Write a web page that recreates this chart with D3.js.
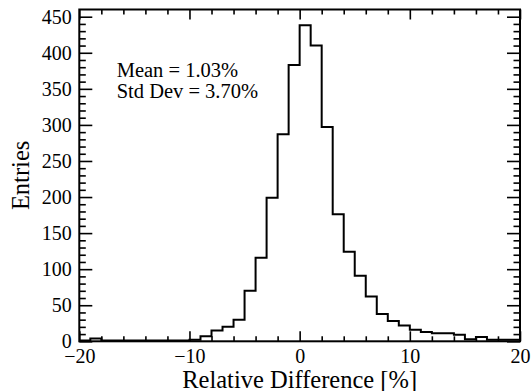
<!DOCTYPE html>
<html><head><meta charset="utf-8">
<script src="https://cdn.jsdelivr.net/npm/d3@7/dist/d3.min.js"></script>
<style>body{margin:0;background:#fff;} svg{display:block;}</style></head>
<body><svg id="c" width="531" height="391"></svg>
<script>
// bin lower / upper edges (bin width 1 %)
const binStart = [-20,-19,-18,-17,-16,-15,-14,-13,-12,-11,-10,-9,-8,-7,-6,-5,-4,-3,-2,-1,0,1,2,3,4,5,6,7,8,9,10,11,12,13,14,15,16,17,18,19];
const binEnd = [-19,-18,-17,-16,-15,-14,-13,-12,-11,-10,-9,-8,-7,-6,-5,-4,-3,-2,-1,0,1,2,3,4,5,6,7,8,9,10,11,12,13,14,15,16,17,18,19,20];
const counts = [1,4,1,1,1,1,1,1,1,1,2,7,15,20,30,70,116,199,287,383,438,410,297,176,124,91,62,38,28,22,16,13,11,11,9,3,6,2,2,2];
const xMajor = [-20,-10,0,10,20];
const xMinor = [-18,-16,-14,-12,-8,-6,-4,-2,2,4,6,8,12,14,16,18];
const yMajor = [0,50,100,150,200,250,300,350,400,450];
const yMinor = [10,20,30,40,60,70,80,90,110,120,130,140,160,170,180,190,210,220,230,240,260,270,280,290,310,320,330,340,360,370,380,390,410,420,430,440];
const stats = ["Mean = 1.03%","Std Dev = 3.70%"];
const xTitle = "Relative Difference [%]";
const yTitle = "Entries";

const FONT = "Liberation Serif";
const L=79.3, R=520, T=9.5, B=341.3;
const svg = d3.select("#c");
const x = d3.scaleLinear().domain([-20,20]).range([L,R]);
const y = d3.scaleLinear().domain([0,460]).range([B,T]);
const fmt = d => d < 0 ? "\u2212" + Math.abs(d) : String(d);

function styleAxis(g){ g.select(".domain").remove(); g.attr("font-family",FONT);
  g.selectAll("line").attr("stroke","#000").attr("stroke-width",1.6);
  g.selectAll("text").attr("fill","#000").attr("font-size",20).attr("font-family",FONT); }

// bottom
svg.append("g").attr("transform",`translate(0,${B})`)
  .call(d3.axisBottom(x).tickValues(xMajor).tickFormat(fmt).tickSize(-10).tickPadding(8)).call(styleAxis);
svg.append("g").attr("transform",`translate(0,${B})`)
  .call(d3.axisBottom(x).tickValues(xMinor).tickFormat("").tickSize(-5)).call(styleAxis);
// top
svg.append("g").attr("transform",`translate(0,${T})`)
  .call(d3.axisTop(x).tickValues(xMajor).tickFormat("").tickSize(-10)).call(styleAxis);
svg.append("g").attr("transform",`translate(0,${T})`)
  .call(d3.axisTop(x).tickValues(xMinor).tickFormat("").tickSize(-5)).call(styleAxis);
// left
svg.append("g").attr("transform",`translate(${L},0)`)
  .call(d3.axisLeft(y).tickValues(yMajor).tickFormat(fmt).tickSize(-13).tickPadding(7.5)).call(styleAxis);
svg.append("g").attr("transform",`translate(${L},0)`)
  .call(d3.axisLeft(y).tickValues(yMinor).tickFormat("").tickSize(-6.5)).call(styleAxis);
// right
svg.append("g").attr("transform",`translate(${R},0)`)
  .call(d3.axisRight(y).tickValues(yMajor).tickFormat("").tickSize(-13)).call(styleAxis);
svg.append("g").attr("transform",`translate(${R},0)`)
  .call(d3.axisRight(y).tickValues(yMinor).tickFormat("").tickSize(-6.5)).call(styleAxis);

// histogram step line
const pts = [];
binStart.forEach((s,i)=>{ pts.push([s,counts[i]]); pts.push([binEnd[i],counts[i]]); });
svg.append("path").datum(pts)
  .attr("d", d3.line().x(d=>x(d[0])).y(d=>y(d[1])))
  .attr("fill","none").attr("stroke","#000").attr("stroke-width",2).attr("stroke-linejoin","miter");

// frame
svg.append("rect").attr("x",L).attr("y",T).attr("width",R-L).attr("height",B-T)
  .attr("fill","none").attr("stroke","#000").attr("stroke-width",2);

// stats text
svg.append("g").selectAll("text").data(stats).join("text")
  .attr("x",116.7).attr("y",(d,i)=>76.7+i*21.6)
  .attr("font-family",FONT).attr("font-size",20.5).attr("fill","#000").text(d=>d);

// titles
svg.append("text").attr("x",x(0)).attr("y",387.5).attr("text-anchor","middle")
  .attr("font-family",FONT).attr("font-size",24.5).attr("fill","#000").text(xTitle);
svg.append("text").attr("transform",`translate(29,${(T+B)/2}) rotate(-90)`).attr("text-anchor","middle")
  .attr("font-family",FONT).attr("font-size",24.5).attr("fill","#000").text(yTitle);
</script></body></html>
